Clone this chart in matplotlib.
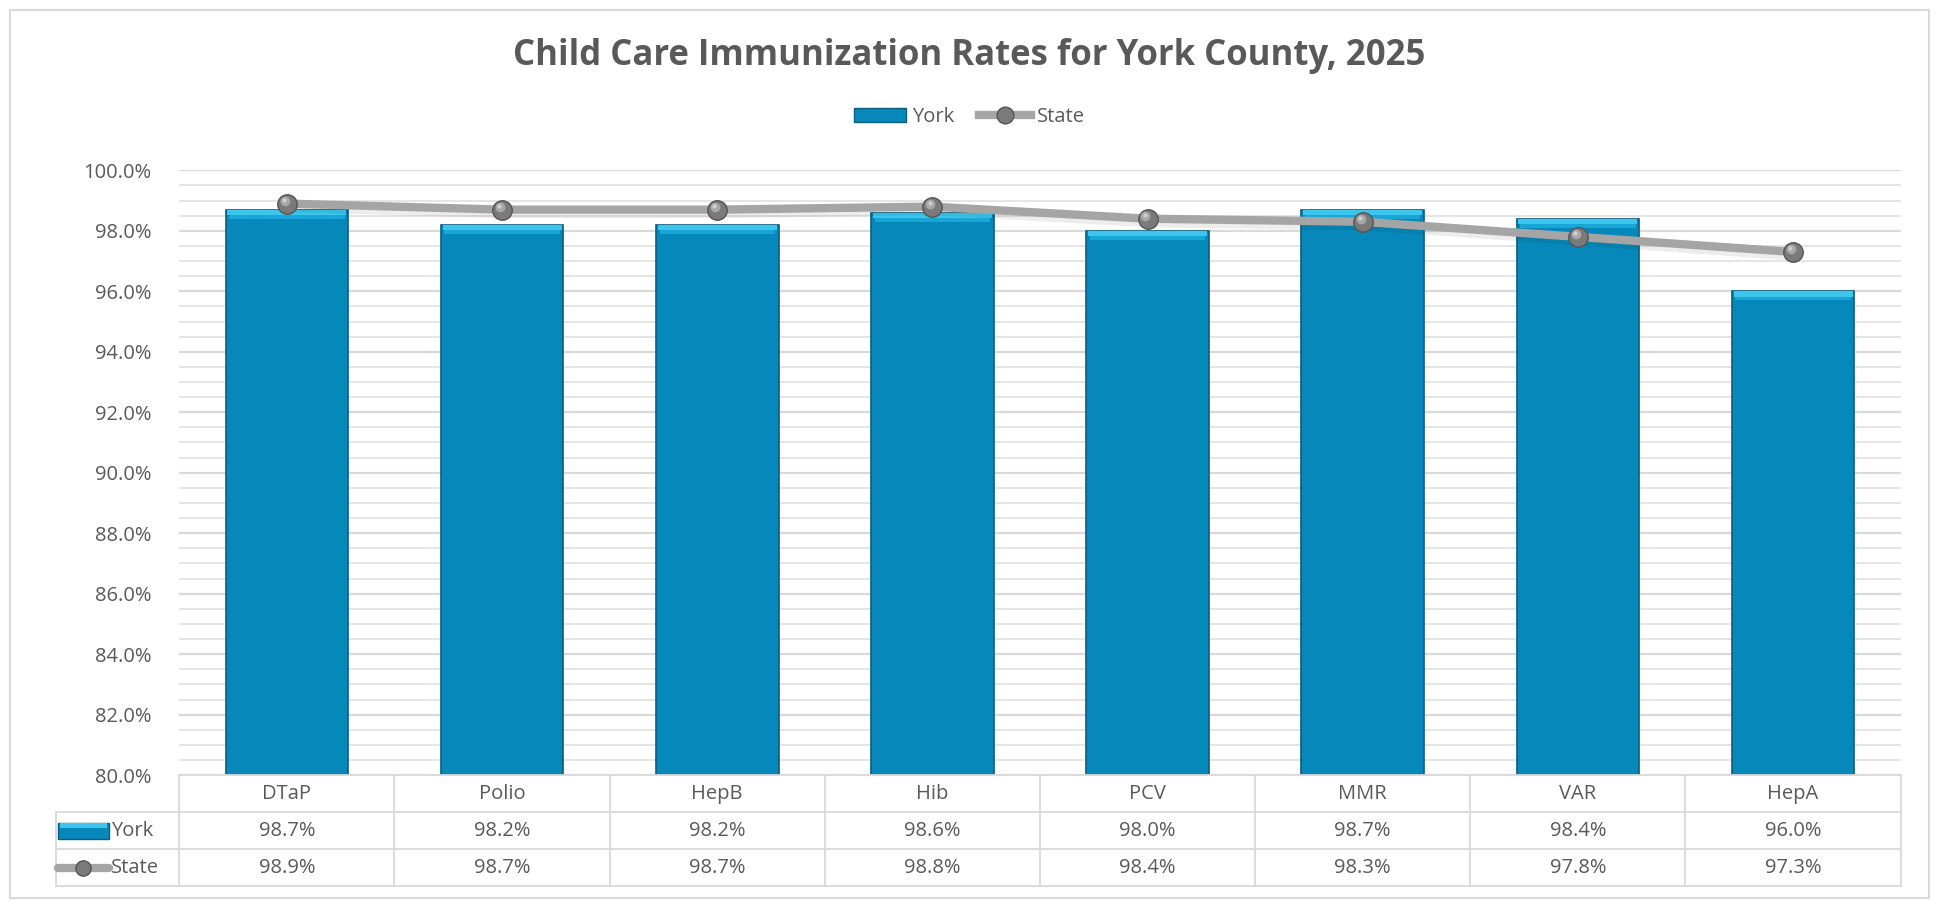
import matplotlib
matplotlib.use("Agg")
import matplotlib.pyplot as plt
import matplotlib.transforms as mtransforms
from matplotlib.lines import Line2D
from matplotlib.patches import Patch, Rectangle
from matplotlib.ticker import MultipleLocator, FuncFormatter

categories = ["DTaP", "Polio", "HepB", "Hib", "PCV", "MMR", "VAR", "HepA"]
york = [98.7, 98.2, 98.2, 98.6, 98.0, 98.7, 98.4, 96.0]
state = [98.9, 98.7, 98.7, 98.8, 98.4, 98.3, 97.8, 97.3]
series_names = ["York", "State"]
title = "Child Care Immunization Rates for York County, 2025"

FONT = ["Open Sans", "DejaVu Sans"]
plt.rcParams["font.family"] = FONT
TXT = "#595959"
BAR = "#0689BA"
BAR_EDGE = "#0B5E7E"
BAR_HI = "#3CC6EE"
LINE = "#A5A5A5"
GRID = "#E0E0E0"
CELL = "#D9D9D9"
FS = 14.5

W, H = 1939, 901
fig = plt.figure(figsize=(W / 100, H / 100), dpi=100)
# reference layout measured on a 1568x730 view
sx, sy = 1568.0, 730.0
def fx(px): return px / sx
def fy(py): return 1 - py / sy

ax_left, ax_right = fx(145), fx(1537)
ax_top, ax_bot = fy(138), fy(628)
ax = fig.add_axes([ax_left, ax_bot, ax_right - ax_left, ax_top - ax_bot])

n = len(categories)
x = list(range(n))
ax.set_xlim(-0.5, n - 0.5)
ax.set_ylim(80, 100)

ax.yaxis.set_major_locator(MultipleLocator(2))
ax.yaxis.set_minor_locator(MultipleLocator(0.5))
ax.yaxis.set_major_formatter(FuncFormatter(lambda v, p: f"{v:.1f}%"))
ax.grid(axis="y", which="major", color="#D9D9D9", lw=1.6, zorder=0)
ax.grid(axis="y", which="minor", color=GRID, lw=1.2, zorder=0)
ax.tick_params(axis="y", which="both", length=0, labelsize=FS, labelcolor=TXT, pad=20)
ax.tick_params(axis="x", which="both", length=0, labelbottom=False)
for s in ax.spines.values():
    s.set_visible(False)
ax.set_axisbelow(True)

bw = 0.57
ax.bar(x, [v - 80 for v in york], bottom=80, width=bw, color=BAR,
       edgecolor=BAR_EDGE, linewidth=1.2, zorder=2)
# bevel highlight on top of each bar
ax.bar(x, [0.12] * n, bottom=[v - 0.30 for v in york], width=bw * 0.94,
       color="#17A6D6", linewidth=0, zorder=3)
ax.bar(x, [0.18] * n, bottom=[v - 0.18 for v in york], width=bw * 0.97,
       color=BAR_HI, linewidth=0, zorder=3)

# shadow for the line
ax.plot(x, [v - 0.1 for v in state], color="#000000", lw=8, alpha=0.07,
        zorder=3.5, solid_capstyle="round")
ax.plot(x, state, color=LINE, lw=6, zorder=4, marker="o", markersize=14,
        markerfacecolor="#7A7A7A", markeredgecolor="#555555", markeredgewidth=1.0)
hl = ax.transData + mtransforms.ScaledTranslation(-1.5 / 72, 1.8 / 72, fig.dpi_scale_trans)
ax.plot(x, state, lw=0, marker="o", markersize=7, markerfacecolor="#A8A8A8",
        markeredgewidth=0, zorder=5, transform=hl)
hl2 = ax.transData + mtransforms.ScaledTranslation(-2.0 / 72, 2.5 / 72, fig.dpi_scale_trans)
ax.plot(x, state, lw=0, marker="o", markersize=3, markerfacecolor="#D0D0D0",
        markeredgewidth=0, zorder=5.5, transform=hl2)

# title and legend
fig.text(0.5, fy(45), title, ha="center", va="center", fontsize=25,
         fontweight="bold", color=TXT)
handles = [Patch(facecolor=BAR, edgecolor=BAR_EDGE),
           Line2D([0], [0], color=LINE, lw=6, marker="o", markersize=12,
                  markerfacecolor="#7A7A7A", markeredgecolor="#555555")]
fig.legend(handles, series_names, loc="center", bbox_to_anchor=(0.5, fy(95)),
           ncol=2, frameon=False, fontsize=FS, labelcolor=TXT,
           handlelength=2.6, handletextpad=0.3, columnspacing=1.2)

# data table below the axes
blend = mtransforms.blended_transform_factory(ax.transData, fig.transFigure)
rows_y = [fy(628), fy(658), fy(688), fy(718)]
tl_x = fx(45)
lw_cell = 1.3
fig.add_artist(Line2D([ax_left, ax_right], [rows_y[0]] * 2, color=CELL, lw=lw_cell))
for yy in rows_y[1:]:
    fig.add_artist(Line2D([tl_x, ax_right], [yy] * 2, color=CELL, lw=lw_cell))
for i in range(n + 1):
    ax.add_artist(Line2D([i - 0.5, i - 0.5], [rows_y[0], rows_y[3]], color=CELL,
                         lw=lw_cell, transform=blend, clip_on=False))
fig.add_artist(Line2D([tl_x, tl_x], [rows_y[1], rows_y[3]], color=CELL, lw=lw_cell))

def mid(a, b): return (a + b) / 2
for i in range(n):
    ax.text(i, mid(rows_y[0], rows_y[1]), categories[i], transform=blend,
            ha="center", va="center", fontsize=FS, color=TXT)
    ax.text(i, mid(rows_y[1], rows_y[2]), f"{york[i]:.1f}%", transform=blend,
            ha="center", va="center", fontsize=FS, color=TXT)
    ax.text(i, mid(rows_y[2], rows_y[3]), f"{state[i]:.1f}%", transform=blend,
            ha="center", va="center", fontsize=FS, color=TXT)

# legend keys in the table
k0, k1 = fx(47), fx(88)
ym1 = mid(rows_y[1], rows_y[2])
ym2 = mid(rows_y[2], rows_y[3])
fig.add_artist(Rectangle((k0, ym1 - 0.009), k1 - k0, 0.018,
                         transform=fig.transFigure, facecolor=BAR, edgecolor=BAR_EDGE, lw=1))
fig.add_artist(Rectangle((k0 + 0.001, ym1 + 0.003), k1 - k0 - 0.002, 0.005,
                         transform=fig.transFigure, facecolor=BAR_HI, lw=0))
fig.text(fx(90), ym1, series_names[0], ha="left", va="center", fontsize=FS, color=TXT)
fig.add_artist(Line2D([k0, k1], [ym2, ym2], color=LINE, lw=6,
                      solid_capstyle="round"))
fig.add_artist(Line2D([mid(k0, k1)], [ym2], lw=0, marker="o", markersize=11,
                      markerfacecolor="#7A7A7A", markeredgecolor="#555555"))
fig.text(fx(90), ym2, series_names[1], ha="left", va="center", fontsize=FS, color=TXT)

# chart border
fig.add_artist(Rectangle((fx(8), 0.003), fx(1560) - fx(8), fy(8) - 0.003,
                         transform=fig.transFigure, fill=False, edgecolor="#D9D9D9", lw=1.5))

fig.savefig("out.png", dpi=100, facecolor="white")
